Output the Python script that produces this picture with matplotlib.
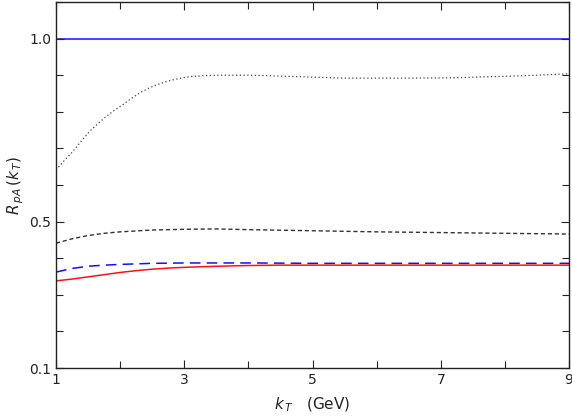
import numpy as np
import matplotlib
matplotlib.use("Agg")
import matplotlib.pyplot as plt
from matplotlib.ticker import MultipleLocator, FixedLocator

# curves (k_T in GeV, R_pA)
kt_dot = [1.0, 1.13, 1.26, 1.39, 1.52, 1.65, 1.78, 1.91, 2.04, 2.17, 2.30, 2.43, 2.56, 2.69,
          2.82, 2.95, 3.08, 3.34, 3.6, 4.0, 4.6, 5.5, 6.5, 7.2, 8.0, 8.5, 9.0]
r_dot = [0.641, 0.667, 0.691, 0.719, 0.746, 0.767, 0.787, 0.804, 0.819, 0.836, 0.851, 0.863,
         0.873, 0.881, 0.887, 0.892, 0.896, 0.899, 0.900, 0.900, 0.897, 0.892, 0.892, 0.893,
         0.897, 0.900, 0.904]

kt_dash = [1.0, 1.25, 1.5, 1.75, 2.0, 2.5, 3.0, 3.5, 4.0, 5.0, 6.0, 7.0, 8.0, 9.0]
r_dash = [0.441, 0.453, 0.462, 0.468, 0.472, 0.477, 0.479, 0.480, 0.478, 0.475, 0.472, 0.470,
          0.468, 0.466]

kt_blue = [1.0, 1.25, 1.5, 1.75, 2.0, 2.5, 3.0, 4.0, 5.0, 6.0, 7.0, 8.0, 9.0]
r_blue = [0.362, 0.372, 0.378, 0.381, 0.383, 0.386, 0.387, 0.387, 0.386, 0.386, 0.386, 0.386, 0.386]

kt_red = [1.0, 1.25, 1.5, 1.75, 2.0, 2.25, 2.5, 2.75, 3.0, 3.5, 4.0, 4.5, 5.0, 6.0, 7.0, 8.0, 9.0]
r_red = [0.338, 0.343, 0.349, 0.355, 0.361, 0.366, 0.370, 0.373, 0.375, 0.378, 0.380, 0.381,
         0.381, 0.381, 0.381, 0.381, 0.381]

kt_one = [1.0, 9.0]
r_one = [1.0, 1.0]

fig = plt.figure(figsize=(5.72, 4.16), dpi=100)
ax = fig.add_axes([56 / 572, 48 / 416, 513 / 572, 366 / 416])

ax.plot(kt_one, r_one, color='#1010ff', lw=1.1)
ax.plot(kt_dot, r_dot, color='#444444', lw=0.9, ls=(0, (1, 2)))
ax.plot(kt_dash, r_dash, color='#333333', lw=1.0, ls=(0, (3, 2)))
ax.plot(kt_blue, r_blue, color='#1010ff', lw=1.1, ls=(0, (7, 4)))
ax.plot(kt_red, r_red, color='#ff1010', lw=1.1)

ax.set_xlim(1, 9)
ax.set_ylim(0.1, 1.1)

ax.xaxis.set_major_locator(FixedLocator([1, 3, 5, 7, 9]))
ax.xaxis.set_minor_locator(FixedLocator([2, 4, 6, 8]))
ax.yaxis.set_major_locator(FixedLocator([0.1, 0.5, 1.0]))
ax.yaxis.set_minor_locator(MultipleLocator(0.1))
ax.set_yticklabels(['0.1', '0.5', '1.0'])

ax.tick_params(which='both', direction='in', top=True, right=True,
               labelsize=10, colors='#222222', width=0.8)
ax.tick_params(which='major', length=6)
ax.tick_params(which='minor', length=5)
for s in ax.spines.values():
    s.set_linewidth(1.0)
    s.set_color('#222222')

ax.set_xlabel(r'$k_{\,T}$   (GeV)', fontsize=11, color='#222222', labelpad=6)
ax.set_ylabel(r'$R_{\,pA}\,(k_{\,T})$', fontsize=11, color='#222222', labelpad=2)

fig.savefig('out.png', dpi=100)
